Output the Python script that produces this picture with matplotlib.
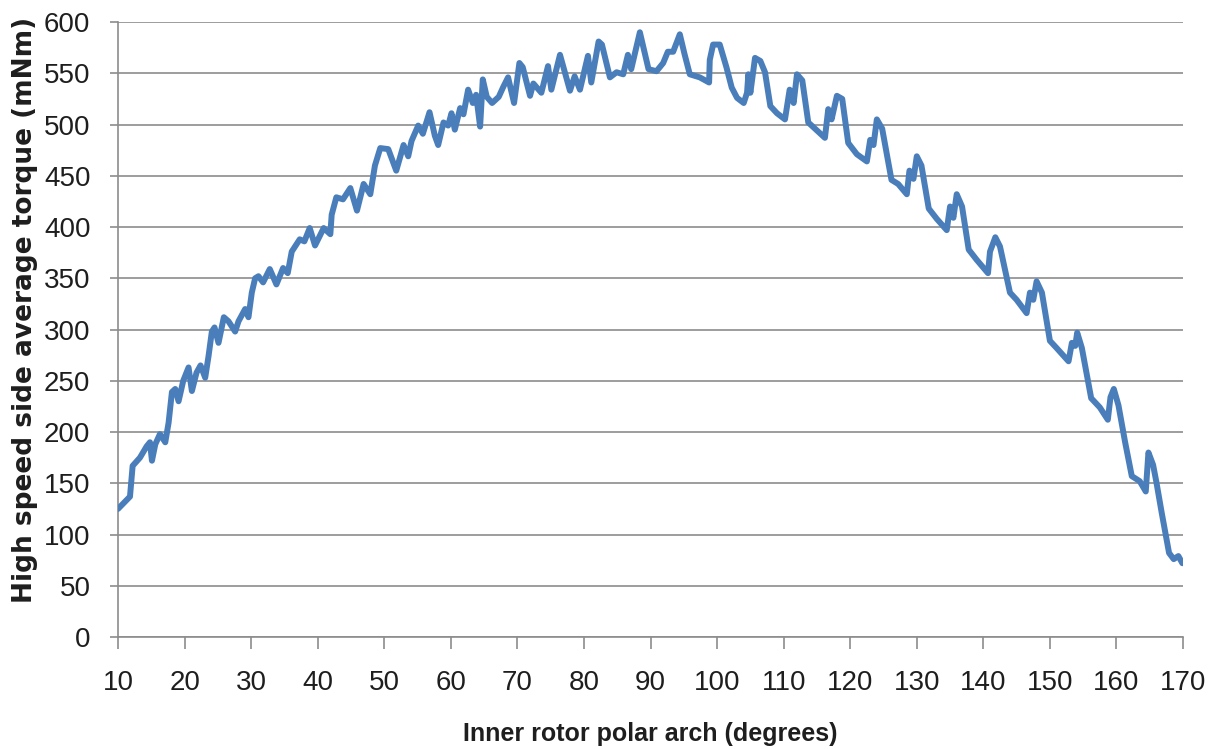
import matplotlib
matplotlib.use("Agg")
import matplotlib.pyplot as plt

# inner rotor polar arch (degrees) and high speed side average torque (mNm)
arch = [10.0, 11.8, 12.2, 13.3, 14.3, 14.8, 15.1, 15.6, 16.3, 17.1, 17.6, 18.1, 18.6, 19.1, 19.8,
        20.6, 21.1, 21.8, 22.4, 23.1, 23.6, 24.1, 24.5, 25.1, 25.9, 26.6, 27.6, 28.1, 29.1, 29.6,
        30.1, 30.6, 31.1, 31.8, 32.8, 33.8, 34.8, 35.5, 36.1, 37.3, 38.0, 38.8, 39.6, 40.9, 41.9,
        42.1, 42.8, 43.8, 44.9, 45.9, 46.9, 47.9, 48.6, 49.4, 50.6, 51.8, 52.9, 53.6, 54.1, 55.1,
        55.8, 56.8, 57.6, 58.1, 58.9, 59.6, 60.1, 60.6, 61.4, 61.9, 62.6, 63.3, 63.8, 64.4, 64.8,
        65.4, 66.2, 67.2, 67.9, 68.6, 69.5, 70.3, 70.8, 71.9, 72.4, 73.6, 74.6, 75.1, 76.4, 77.9,
        78.6, 79.4, 80.6, 81.1, 82.2, 82.7, 83.9, 84.9, 85.9, 86.6, 87.1, 88.4, 89.7, 90.9, 91.9,
        92.6, 93.4, 94.4, 95.1, 95.9, 97.4, 98.8, 98.9, 99.4, 100.4, 101.4, 102.2, 103.0, 104.0, 104.5,
        104.7, 105.0, 105.7, 106.5, 107.2, 108.0, 109.0, 110.2, 110.9, 111.5, 112.0, 112.8, 113.7, 114.7, 116.2,
        116.7, 117.2, 118.0, 118.8, 119.7, 121.0, 122.5, 123.0, 123.5, 124.0, 124.8, 126.2, 127.2, 128.5, 128.9,
        129.5, 130.0, 130.7, 131.8, 133.0, 134.5, 135.0, 135.5, 136.0, 136.8, 137.8, 139.0, 140.7, 141.0, 141.8,
        142.5, 144.0, 145.0, 146.5, 147.0, 147.5, 148.0, 148.8, 150.0, 151.0, 152.8, 153.3, 153.8, 154.1, 154.8,
        156.2, 157.5, 158.7, 159.1, 159.6, 160.3, 161.3, 162.3, 163.5, 164.4, 164.8, 165.5, 166.0, 166.8, 167.9,
        168.6, 169.3, 169.9]
torque = [125, 137, 167, 175, 186, 190, 172, 188, 198, 190, 209, 239, 242, 230, 250,
          263, 240, 258, 265, 253, 274, 298, 302, 287, 312, 308, 298, 308, 320, 312,
          336, 350, 352, 346, 359, 344, 360, 355, 376, 388, 386, 399, 382, 399, 393,
          412, 429, 427, 438, 416, 442, 432, 460, 477, 476, 455, 480, 469, 484, 499,
          491, 512, 489, 480, 502, 499, 511, 495, 516, 510, 534, 521, 529, 498, 544,
          527, 521, 527, 537, 546, 521, 560, 556, 528, 540, 531, 557, 534, 568, 533,
          547, 534, 567, 541, 581, 578, 546, 551, 549, 568, 554, 590, 554, 552, 560,
          571, 571, 588, 569, 549, 546, 541, 563, 578, 578, 556, 536, 526, 521, 531,
          549, 531, 565, 562, 551, 518, 511, 505, 534, 521, 549, 543, 502, 496, 487,
          515, 505, 528, 525, 482, 471, 464, 485, 480, 505, 496, 446, 442, 432, 455,
          447, 469, 460, 418, 408, 397, 420, 409, 432, 420, 378, 368, 355, 376, 390,
          381, 336, 329, 316, 336, 329, 347, 336, 289, 282, 269, 287, 284, 297, 282,
          233, 224, 212, 234, 242, 226, 190, 157, 152, 142, 180, 168, 151, 121, 82,
          76, 79, 72]

x_ticks = list(range(10, 171, 10))
y_ticks = list(range(0, 601, 50))

tick_font = ["Liberation Sans Narrow", "Liberation Sans", "DejaVu Sans"]
grid_col = "#8c8c8c"

fig = plt.figure(figsize=(12.19, 7.49), dpi=100)
ax = fig.add_axes([0.0968, 0.1495, 0.8737, 0.8211])

ax.plot(arch, torque, color="#4a7ebb", linewidth=4.3,
        solid_joinstyle="round", solid_capstyle="round", zorder=3)

ax.set_xlim(10, 170)
ax.set_ylim(0, 600)
ax.set_xticks(x_ticks)
ax.set_yticks(y_ticks)
ax.set_xticklabels([str(t) for t in x_ticks], family=tick_font, fontsize=20, color="#1e1e1e")
ax.set_yticklabels([str(t) for t in y_ticks], family=tick_font, fontsize=20, color="#1e1e1e")

ax.grid(axis="y", color=grid_col, linewidth=1.2, zorder=0)
ax.set_axisbelow(True)
for side in ["top", "right"]:
    ax.spines[side].set_visible(False)
for side in ["left", "bottom"]:
    ax.spines[side].set_color(grid_col)
    ax.spines[side].set_linewidth(1.2)

ax.tick_params(axis="x", direction="out", length=8.6, width=1.2, color=grid_col, pad=15)
ax.tick_params(axis="y", direction="out", length=5.8, width=1.2, color=grid_col, pad=14)

ax.set_xlabel("Inner rotor polar arch (degrees)", family=tick_font, fontsize=18,
              fontweight="bold", color="#1e1e1e")
ax.set_ylabel("High speed side average torque (mNm)", family=["DejaVu Sans"],
              fontsize=19, fontweight="bold", color="#1e1e1e")
ax.xaxis.set_label_coords(0.4995, -0.158)
ax.xaxis.label.set_va("center")
ax.yaxis.set_label_coords(-0.087, 0.532)
ax.yaxis.label.set_va("center")

fig.savefig("out.png", dpi=100)
